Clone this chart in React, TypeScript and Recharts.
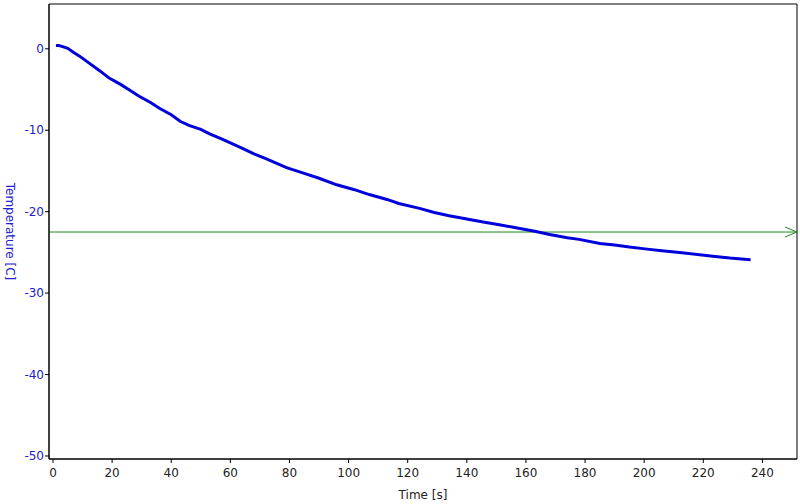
import React from "react";
import { LineChart, Line, XAxis, YAxis, ReferenceLine, ReferenceArea, Label } from "recharts";

const times = [1, 2, 3, 5, 7, 9, 12, 16, 19, 23, 26, 29, 33, 36, 40, 43, 46, 50, 53, 57, 60, 63, 68, 72, 79, 85, 90, 96, 102, 107, 113, 117, 124, 129, 134, 140, 146, 151, 157, 163, 168, 174, 178, 185, 190, 195, 201, 206, 212, 218, 224, 229, 236];
const temps = [0.4, 0.4, 0.3, 0.05, -0.45, -0.9, -1.7, -2.75, -3.6, -4.4, -5.1, -5.8, -6.6, -7.3, -8.1, -8.9, -9.4, -9.9, -10.45, -11.05, -11.55, -12.05, -12.9, -13.5, -14.6, -15.3, -15.9, -16.7, -17.3, -17.9, -18.5, -19.0, -19.6, -20.1, -20.5, -20.9, -21.3, -21.6, -22.0, -22.4, -22.8, -23.2, -23.4, -23.9, -24.1, -24.35, -24.6, -24.8, -25.0, -25.25, -25.5, -25.7, -25.9];
const xTicks = [0, 20, 40, 60, 80, 100, 120, 140, 160, 180, 200, 220, 240];
const yTicks = [-50, -40, -30, -20, -10, 0];
const thresholdValue = -22.5;
const xDomain = [-1.35, 251.7];
const yDomain = [-50.37, 5.5];

const data = times.map((t, i) => ({ t, v: temps[i] }));

const FONT = "DejaVu Sans, Verdana, sans-serif";

const ArrowLabel = (props: any) => {
  const vb = props.viewBox || {};
  const ex = vb.x + vb.width;
  const y = vb.y;
  return (
    <polyline
      points={`${ex - 12},${y - 5} ${ex},${y} ${ex - 12},${y + 5}`}
      fill="none"
      stroke="#1a8a1a"
      strokeWidth={1}
    />
  );
};

const YLabel = (props: any) => {
  const vb = props.viewBox || {};
  const x = 10;
  const y = vb.y + vb.height / 2;
  return (
    <text
      x={x}
      y={y}
      transform={`rotate(90, ${x}, ${y})`}
      textAnchor="middle"
      dominantBaseline="central"
      fill="#2020d0"
      fontSize={12}
      fontFamily={FONT}
    >
      Temperature [C]
    </text>
  );
};

export default function App() {
  return (
    <div style={{ position: "absolute", left: 0, top: 0, width: 800, height: 504, background: "#fff" }}>
      <LineChart
        width={800}
        height={504}
        data={data}
        margin={{ top: 4, right: 3, left: 0, bottom: 0 }}
        style={{ fontFamily: FONT }}
      >
        <XAxis
          dataKey="t"
          type="number"
          domain={xDomain}
          ticks={xTicks}
          allowDataOverflow
          height={45}
          tickSize={4}
          tickMargin={5}
          axisLine={{ stroke: "#000" }}
          tickLine={{ stroke: "#000" }}
          tick={{ fill: "#222", fontSize: 12, fontFamily: FONT }}
        >
          <Label value="Time [s]" position="insideBottom" offset={5} fill="#222" fontSize={12} fontFamily={FONT} />
        </XAxis>
        <YAxis
          type="number"
          domain={yDomain}
          ticks={yTicks}
          allowDataOverflow
          width={49}
          tickSize={4}
          tickMargin={1}
          axisLine={{ stroke: "#000" }}
          tickLine={{ stroke: "#000" }}
          tick={{ fill: "#2020d0", fontSize: 12, fontFamily: FONT }}
        >
          <Label content={<YLabel />} />
        </YAxis>
        <ReferenceArea
          x1={xDomain[0]}
          x2={xDomain[1]}
          y1={yDomain[0]}
          y2={yDomain[1]}
          fill="none"
          stroke="#000"
          strokeWidth={1}
          ifOverflow="visible"
        />
        <ReferenceLine
          y={thresholdValue}
          stroke="#1a8a1a"
          strokeWidth={1}
          label={<ArrowLabel />}
        />
        <Line
          dataKey="v"
          type="linear"
          stroke="#0000dd"
          strokeWidth={3}
          dot={false}
          isAnimationActive={false}
        />
      </LineChart>
    </div>
  );
}
